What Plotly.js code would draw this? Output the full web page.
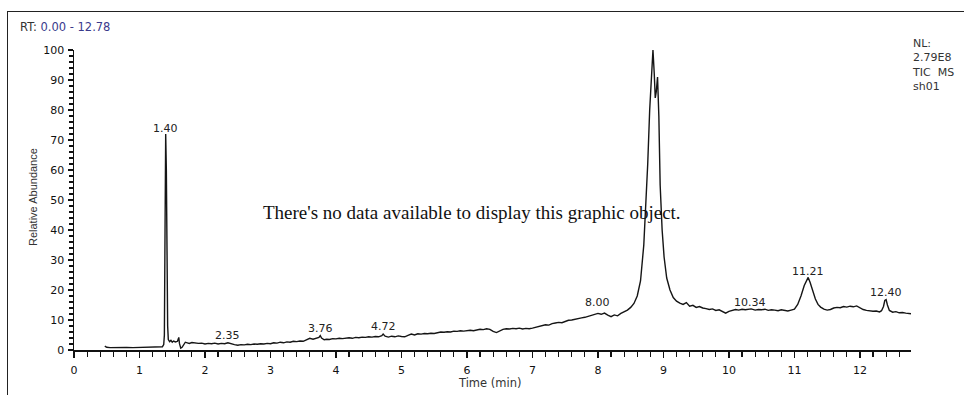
<!DOCTYPE html>
<html>
<head>
<meta charset="utf-8">
<script src="https://cdn.plot.ly/plotly-3.0.1.min.js"></script>
<style>
  html, body { margin: 0; padding: 0; background: #fff; }
  #wrap { position: relative; width: 964px; height: 395px; overflow: hidden; }
  #chart { position: absolute; left: 0; top: 0; width: 964px; height: 395px; }
  #frame { position: absolute; left: 7px; top: 11px; width: 960px; height: 390px;
           border-left: 1.5px solid #222; border-top: 1.5px solid #222; pointer-events: none; }
</style>
</head>
<body>
<div id="wrap">
  <div id="chart"></div>
  <div id="frame"></div>
</div>
<script>
// Retention time (min)
const timeMin = [
  0.47,0.50,0.55,0.60,0.70,0.80,0.90,1.00,1.10,1.20,1.30,1.35,1.37,1.38,1.39,1.40,1.41,1.42,1.43,1.44,
  1.46,1.48,1.50,1.52,1.55,1.58,1.60,1.61,1.63,1.65,1.68,1.70,1.73,1.76,1.80,1.85,1.90,1.95,2.00,2.05,
  2.10,2.15,2.20,2.25,2.30,2.35,2.40,2.45,2.50,2.55,2.60,2.65,2.70,2.75,2.80,2.85,2.90,2.95,3.00,3.05,
  3.10,3.15,3.20,3.25,3.30,3.35,3.40,3.45,3.50,3.55,3.60,3.65,3.70,3.74,3.76,3.78,3.82,3.86,3.90,3.95,
  4.00,4.05,4.10,4.15,4.20,4.25,4.30,4.35,4.40,4.45,4.50,4.55,4.60,4.65,4.70,4.72,4.75,4.80,4.85,4.90,
  4.95,5.00,5.05,5.10,5.15,5.20,5.25,5.30,5.35,5.40,5.45,5.50,5.55,5.60,5.65,5.70,5.75,5.80,5.85,5.90,
  5.95,6.00,6.05,6.10,6.15,6.20,6.25,6.30,6.35,6.40,6.45,6.50,6.55,6.60,6.65,6.70,6.75,6.80,6.85,6.90,
  6.95,7.00,7.05,7.10,7.15,7.20,7.25,7.30,7.35,7.40,7.45,7.50,7.55,7.60,7.65,7.70,7.75,7.80,7.85,7.90,
  7.95,8.00,8.05,8.10,8.15,8.20,8.25,8.30,8.35,8.40,8.45,8.50,8.55,8.60,8.65,8.70,8.73,8.76,8.79,8.82,
  8.84,8.86,8.875,8.89,8.91,8.93,8.95,8.98,9.01,9.05,9.10,9.15,9.20,9.25,9.30,9.35,9.40,9.45,9.50,9.55,
  9.60,9.65,9.70,9.75,9.80,9.85,9.90,9.95,10.00,10.05,10.10,10.15,10.20,10.25,10.30,10.34,10.40,10.45,10.50,10.55,
  10.60,10.65,10.70,10.75,10.80,10.85,10.90,10.95,11.00,11.05,11.10,11.15,11.19,11.21,11.24,11.28,11.32,11.36,11.40,11.45,
  11.50,11.55,11.60,11.65,11.70,11.75,11.80,11.85,11.90,11.95,12.00,12.05,12.10,12.15,12.20,12.25,12.30,12.33,12.36,12.38,
  12.40,12.42,12.45,12.50,12.55,12.60,12.65,12.70,12.75,12.78
];
// Relative abundance (%)
const relAbundance = [
  1.3,0.9,0.8,0.85,0.8,0.85,0.8,0.85,0.9,0.9,1.0,1.1,1.8,5,40,72,60,22,8,3.5,
  2.8,3.2,2.6,3.0,2.7,2.9,4.2,2.2,0.6,0.9,2.0,2.6,2.4,2.2,2.5,2.3,2.2,2.3,2.0,2.2,
  2.1,2.3,2.0,2.2,2.1,2.4,2.0,1.8,1.6,1.8,1.7,1.9,1.8,2.0,1.9,2.1,2.0,2.2,2.1,2.4,
  2.3,2.6,2.4,2.7,2.6,2.9,2.8,3.0,2.9,3.4,3.9,3.6,3.8,4.2,4.8,4.0,3.4,3.6,3.5,3.8,
  3.7,3.9,3.8,4.0,4.1,3.9,4.2,4.1,4.3,4.2,4.4,4.3,4.5,4.4,4.8,5.3,4.6,4.3,4.6,4.4,
  4.7,4.5,4.4,4.9,5.3,5.0,5.4,5.3,5.5,5.4,5.6,5.5,5.8,6.0,5.9,6.1,6.0,6.3,6.2,6.4,
  6.3,6.5,6.6,6.4,6.7,6.9,6.8,7.1,6.9,6.2,5.8,6.3,6.9,7.1,7.0,7.2,7.1,7.3,7.0,7.2,
  7.1,7.3,7.6,7.9,8.1,8.4,8.3,8.8,9.0,9.2,9.1,9.6,9.9,10.0,10.3,10.5,10.7,10.9,11.2,11.5,
  11.9,12.2,11.9,12.3,11.6,11.1,11.7,11.4,12.2,12.8,13.3,14.2,15.5,18,23,35,48,62,80,95,
  100,92,84,86,91,78,55,40,31,24,20,17.5,16.3,15.6,15.2,15.8,14.6,14.9,14.2,14.5,
  14.0,13.8,13.5,13.7,13.2,13.4,12.9,12.3,12.9,13.2,13.5,13.3,13.6,13.4,13.5,13.7,13.3,13.5,13.4,13.6,
  13.2,13.4,13.3,13.1,13.4,13.2,13.0,13.3,13.6,15.2,18,21.5,23.5,24.2,22.5,19.5,17,15.2,14.3,13.6,
  13.3,13.5,14.0,14.2,14.1,14.5,14.3,14.6,14.4,14.7,14.0,13.5,13.2,13.0,12.9,13.0,12.7,13.1,14.5,16.5,
  16.8,15.0,13.2,12.6,12.8,12.4,12.5,12.3,12.2,12.1
];
// Peak labels
const peakLabels = ["1.40","2.35","3.76","4.72","8.00","8.84","10.34","11.21","12.40"];
const peakLabelX = [1.40, 2.35, 3.76, 4.72, 8.00, 8.84, 10.32, 11.20, 12.40];
const peakLabelY = [73.7, 5.0, 7.3, 7.7, 15.7, 101.7, 16.0, 26.3, 19.3];
const xTickVals = [0,1,2,3,4,5,6,7,8,9,10,11,12];
const yTickVals = [0,10,20,30,40,50,60,70,80,90,100];

const trace = {
  x: timeMin, y: relAbundance, type: 'scatter', mode: 'lines',
  line: {color: '#151515', width: 1.4}, cliponaxis: false, hoverinfo: 'skip'
};

const fontWide = 'DejaVu Sans, Verdana, sans-serif';
const fontSans = 'Liberation Sans, Arial, sans-serif';
const annotations = peakLabels.map((t, i) => ({
  x: peakLabelX[i], y: peakLabelY[i], xref: 'x', yref: 'y', text: t, showarrow: false,
  xanchor: 'center', yanchor: 'middle', font: {family: fontWide, size: 11, color: '#222'}
}));
annotations.push(
  {xref: 'paper', yref: 'paper', x: 0, y: 1, xshift: -56, yshift: 23, xanchor: 'left', yanchor: 'middle',
   showarrow: false, font: {family: fontWide, size: 11.5, color: '#333'},
   text: 'RT: <span style="color:#3a3a8c">0.00 - 12.78</span>'},
  {xref: 'paper', yref: 'paper', x: 1, y: 1, xshift: -1, yshift: 15, xanchor: 'left', yanchor: 'top',
   align: 'left', showarrow: false, font: {family: fontWide, size: 11, color: '#333'},
   text: 'NL:<br>2.79E8<br>TIC  MS<br>sh01'},
  {xref: 'paper', yref: 'paper', x: 0, y: 0.51, xshift: -41, xanchor: 'center', yanchor: 'middle',
   textangle: -90, showarrow: false, font: {family: fontSans, size: 11, color: '#333'},
   text: 'Relative Abundance'},
  {xref: 'paper', yref: 'paper', x: 0.497, y: 0, yshift: -33, xanchor: 'center', yanchor: 'middle',
   showarrow: false, font: {family: fontWide, size: 11.5, color: '#333'}, text: 'Time (min)'},
  {xref: 'paper', yref: 'paper', x: 0.4755, y: 0.457, xanchor: 'center', yanchor: 'middle',
   showarrow: false, font: {family: 'Liberation Serif, Times New Roman, serif', size: 19, color: '#111'},
   text: "There's no data available to display this graphic object."}
);

const layout = {
  width: 964, height: 395,
  margin: {l: 74, r: 53, t: 50, b: 45},
  paper_bgcolor: '#fff', plot_bgcolor: '#fff',
  showlegend: false,
  xaxis: {
    range: [0, 12.78], tickvals: xTickVals, ticks: 'outside', ticklen: 6, tickwidth: 1.2,
    tickcolor: '#111', showline: true, linecolor: '#111', linewidth: 1.5, showgrid: false,
    zeroline: false, ticklabelstandoff: 3,
    tickfont: {family: fontWide, size: 11, color: '#111'},
    minor: {dtick: 0.2, ticks: 'outside', ticklen: 5, tickwidth: 1.2, tickcolor: '#111', showgrid: false}
  },
  yaxis: {
    range: [0, 100], tickvals: yTickVals, ticks: 'outside', ticklen: 5, tickwidth: 1.2,
    tickcolor: '#111', showline: true, linecolor: '#111', linewidth: 1.5, showgrid: false,
    zeroline: false, ticklabelstandoff: 1,
    tickfont: {family: fontWide, size: 11, color: '#111'},
    minor: {dtick: 2, ticks: 'outside', ticklen: 4, tickwidth: 1.2, tickcolor: '#111', showgrid: false}
  },
  annotations: annotations
};

Plotly.newPlot('chart', [trace], layout, {displayModeBar: false, staticPlot: true});
</script>
</body>
</html>
